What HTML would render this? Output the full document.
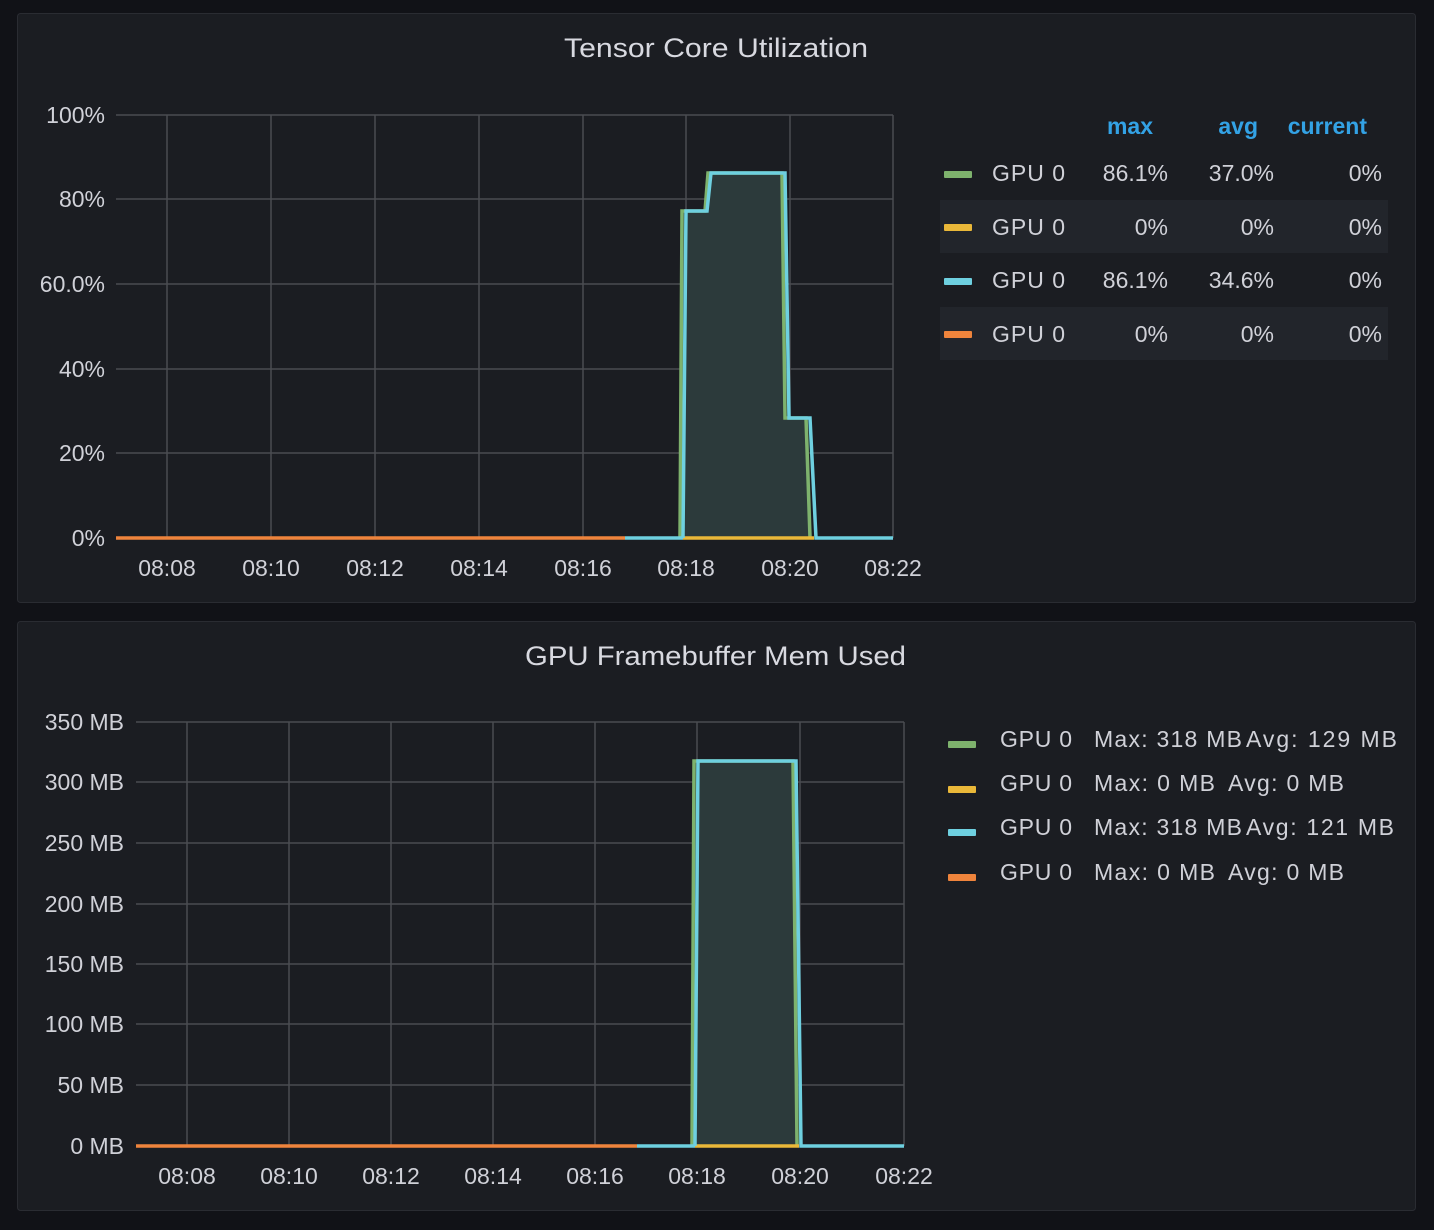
<!DOCTYPE html>
<html><head><meta charset="utf-8"><style>
html,body{margin:0;padding:0;background:#111217;}
svg{display:block;font-family:"Liberation Sans",sans-serif;}
</style></head><body>
<svg width="1434" height="1230" viewBox="0 0 1434 1230" xmlns="http://www.w3.org/2000/svg">
<rect width="1434" height="1230" fill="#111217"/>
<rect x="17.5" y="13.5" width="1398" height="589" rx="3" fill="#1b1d22" stroke="#2a2c32"/>
<rect x="17.5" y="621.5" width="1398" height="589" rx="3" fill="#1b1d22" stroke="#2a2c32"/>
<text x="564" y="57" font-size="27" fill="#d8d9e0" textLength="304" lengthAdjust="spacingAndGlyphs">Tensor Core Utilization</text>
<text x="525" y="665" font-size="27" fill="#d8d9e0" textLength="381" lengthAdjust="spacingAndGlyphs">GPU Framebuffer Mem Used</text>

<!-- top grid -->
<g stroke="#4a4c51" stroke-width="1.5">
<line x1="116" y1="115" x2="893" y2="115"/><line x1="116" y1="199" x2="893" y2="199"/><line x1="116" y1="284" x2="893" y2="284"/><line x1="116" y1="369" x2="893" y2="369"/><line x1="116" y1="453" x2="893" y2="453"/>
<line x1="167" y1="115" x2="167" y2="538"/><line x1="271" y1="115" x2="271" y2="538"/><line x1="375" y1="115" x2="375" y2="538"/><line x1="479" y1="115" x2="479" y2="538"/><line x1="583" y1="115" x2="583" y2="538"/><line x1="686" y1="115" x2="686" y2="538"/><line x1="790" y1="115" x2="790" y2="538"/><line x1="893" y1="115" x2="893" y2="538"/>
</g>
<g font-size="23" fill="#d0d1d8" text-anchor="end">
<text x="105" y="123">100%</text><text x="105" y="207">80%</text><text x="105" y="292">60.0%</text><text x="105" y="377">40%</text><text x="105" y="461">20%</text><text x="105" y="546">0%</text>
</g>
<g font-size="23" fill="#d0d1d8" text-anchor="middle">
<text x="167" y="576">08:08</text><text x="271" y="576">08:10</text><text x="375" y="576">08:12</text><text x="479" y="576">08:14</text><text x="583" y="576">08:16</text><text x="686" y="576">08:18</text><text x="790" y="576">08:20</text><text x="893" y="576">08:22</text>
</g>
<polygon points="680,538 682,211 707,211 710,173 784,173 787,418 808,418 812,538" fill="#2c3a3b"/>
<polyline points="680,538 682,211 705,211 708,173 782,173 785,418 806,418 810,538" fill="none" stroke="#7eb26d" stroke-width="3.5"/>
<line x1="116" y1="538" x2="625" y2="538" stroke="#ef843c" stroke-width="3.5"/>
<line x1="683" y1="538" x2="814" y2="538" stroke="#eab839" stroke-width="3.5"/>
<line x1="625" y1="538" x2="683" y2="538" stroke="#6ed0e0" stroke-width="3.5"/>
<polyline points="683,538 686,211 707,211 711,173 785,173 789,418 810,418 816,538 893,538" fill="none" stroke="#6ed0e0" stroke-width="3.5"/>

<!-- top legend -->
<rect x="940" y="200" width="448" height="53" fill="#22252b"/>
<rect x="940" y="307" width="448" height="53" fill="#22252b"/>
<g font-size="23" font-weight="bold" fill="#33a2e5" text-anchor="end">
<text x="1153" y="134">max</text><text x="1258" y="134">avg</text><text x="1367" y="134">current</text>
</g>
<rect x="944" y="171" width="28" height="7" rx="1" fill="#7eb26d"/>
<rect x="944" y="224" width="28" height="7" rx="1" fill="#eab839"/>
<rect x="944" y="278" width="28" height="7" rx="1" fill="#6ed0e0"/>
<rect x="944" y="331" width="28" height="7" rx="1" fill="#ef843c"/>
<g font-size="23" fill="#d0d1d8">
<text x="992" y="181" textLength="73">GPU 0</text><text x="992" y="235" textLength="73">GPU 0</text><text x="992" y="288" textLength="73">GPU 0</text><text x="992" y="342" textLength="73">GPU 0</text>
</g>
<g font-size="23" fill="#d0d1d8" text-anchor="end">
<text x="1168" y="181">86.1%</text><text x="1274" y="181">37.0%</text><text x="1382" y="181">0%</text>
<text x="1168" y="235">0%</text><text x="1274" y="235">0%</text><text x="1382" y="235">0%</text>
<text x="1168" y="288">86.1%</text><text x="1274" y="288">34.6%</text><text x="1382" y="288">0%</text>
<text x="1168" y="342">0%</text><text x="1274" y="342">0%</text><text x="1382" y="342">0%</text>
</g>

<!-- bottom grid -->
<g stroke="#4a4c51" stroke-width="1.5">
<line x1="136" y1="722" x2="904" y2="722"/><line x1="136" y1="782" x2="904" y2="782"/><line x1="136" y1="843" x2="904" y2="843"/><line x1="136" y1="904" x2="904" y2="904"/><line x1="136" y1="964" x2="904" y2="964"/><line x1="136" y1="1024" x2="904" y2="1024"/><line x1="136" y1="1085" x2="904" y2="1085"/>
<line x1="187" y1="722" x2="187" y2="1146"/><line x1="289" y1="722" x2="289" y2="1146"/><line x1="391" y1="722" x2="391" y2="1146"/><line x1="493" y1="722" x2="493" y2="1146"/><line x1="595" y1="722" x2="595" y2="1146"/><line x1="697" y1="722" x2="697" y2="1146"/><line x1="800" y1="722" x2="800" y2="1146"/><line x1="904" y1="722" x2="904" y2="1146"/>
</g>
<g font-size="23" fill="#d0d1d8" text-anchor="end">
<text x="124" y="730">350 MB</text><text x="124" y="790">300 MB</text><text x="124" y="851">250 MB</text><text x="124" y="912">200 MB</text><text x="124" y="972">150 MB</text><text x="124" y="1032">100 MB</text><text x="124" y="1093">50 MB</text><text x="124" y="1154">0 MB</text>
</g>
<g font-size="23" fill="#d0d1d8" text-anchor="middle">
<text x="187" y="1184">08:08</text><text x="289" y="1184">08:10</text><text x="391" y="1184">08:12</text><text x="493" y="1184">08:14</text><text x="595" y="1184">08:16</text><text x="697" y="1184">08:18</text><text x="800" y="1184">08:20</text><text x="904" y="1184">08:22</text>
</g>
<polygon points="692,1146 695,761 795,761 799,1146" fill="#2c3a3b"/>
<polyline points="692,1146 694,761 793,761 797,1146" fill="none" stroke="#7eb26d" stroke-width="3.5"/>
<line x1="136" y1="1146" x2="637" y2="1146" stroke="#ef843c" stroke-width="3.5"/>
<line x1="695" y1="1146" x2="799" y2="1146" stroke="#eab839" stroke-width="3.5"/>
<line x1="637" y1="1146" x2="695" y2="1146" stroke="#6ed0e0" stroke-width="3.5"/>
<polyline points="695,1146 698,761 796,761 801,1146 904,1146" fill="none" stroke="#6ed0e0" stroke-width="3.5"/>

<!-- bottom legend -->
<rect x="948" y="741" width="28" height="7" rx="1" fill="#7eb26d"/>
<rect x="948" y="786" width="28" height="7" rx="1" fill="#eab839"/>
<rect x="948" y="829" width="28" height="7" rx="1" fill="#6ed0e0"/>
<rect x="948" y="874" width="28" height="7" rx="1" fill="#ef843c"/>
<g font-size="23" fill="#d0d1d8">
<text x="1000" y="747" textLength="72">GPU 0</text><text x="1094" y="747" textLength="148">Max: 318 MB</text><text x="1246" y="747" textLength="151">Avg: 129 MB</text>
<text x="1000" y="791" textLength="72">GPU 0</text><text x="1094" y="791" textLength="121">Max: 0 MB</text><text x="1228" y="791" textLength="116">Avg: 0 MB</text>
<text x="1000" y="835" textLength="72">GPU 0</text><text x="1094" y="835" textLength="148">Max: 318 MB</text><text x="1246" y="835" textLength="148">Avg: 121 MB</text>
<text x="1000" y="880" textLength="72">GPU 0</text><text x="1094" y="880" textLength="121">Max: 0 MB</text><text x="1228" y="880" textLength="116">Avg: 0 MB</text>
</g>
</svg>
</body></html>
